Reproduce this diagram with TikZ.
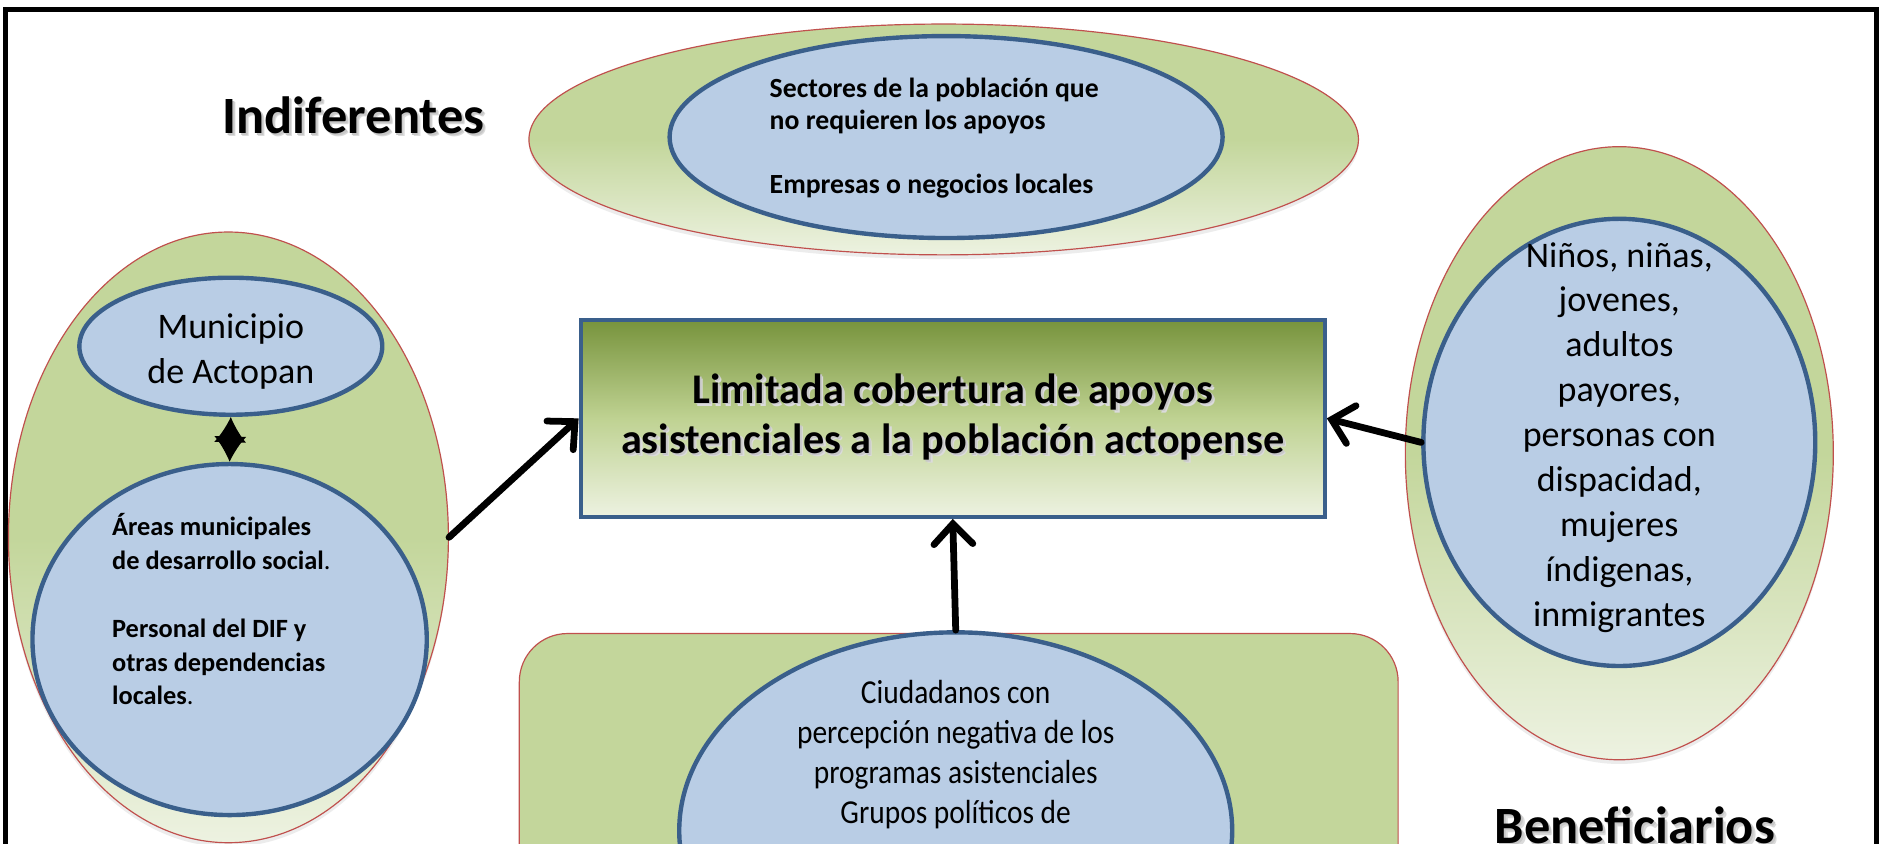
\documentclass[tikz,border=0pt]{standalone}
\usepackage{fontspec}
\setmainfont{Carlito}
\newfontfamily\condfont[FakeStretch=0.88]{Carlito}
\usetikzlibrary{arrows.meta,shapes.geometric,shadows}
\definecolor{gOuter}{HTML}{C3D69B}
\definecolor{gLight}{HTML}{EDF2E1}
\definecolor{blueFill}{HTML}{B9CDE5}
\definecolor{blueLine}{HTML}{3A5F8B}
\definecolor{redLine}{HTML}{C0504D}
\definecolor{rectTop}{HTML}{77933C}
\definecolor{rectMid}{HTML}{BFD292}
\newcommand\shtxt[1]{\rlap{\kern1.9pt\raisebox{-1.9pt}{\textcolor{black!14}{#1}}}\rlap{\kern1.1pt\raisebox{-1.1pt}{\textcolor{black!22}{#1}}}#1}
\tikzset{
  ell/.style 2 args={ellipse, inner sep=0pt, minimum width=#1*0.025cm, minimum height=#2*0.025cm},
  outerell/.style={draw=redLine, line width=0.7pt, top color=gOuter, bottom color=gLight, middle color=gOuter,
     drop shadow={opacity=0.15, shadow xshift=0pt, shadow yshift=-2.5pt}},
  innerell/.style={draw=blueLine, line width=2.6pt, fill=blueFill},
  conn/.style={line width=4pt, line cap=round, -{Straight Barb[length=12pt,width=23pt,line cap=round]}},
  twoway/.style={line width=1pt, {Latex[length=15pt,width=19pt]}-{Latex[length=15pt,width=19pt]}},
  title/.style={font=\bfseries\fontsize{31pt}{37pt}\selectfont, anchor=base, inner sep=0pt},
}
\begin{document}
\begin{tikzpicture}[x=0.025cm, y=-0.025cm]
\useasboundingbox (0,0) rectangle (1568,702);
\clip (0,0) rectangle (1568,702);
\fill[white] (0,0) rectangle (1568,702);
% frame
\draw[line width=3.3pt] (4.5,760) -- (4.5,8) -- (1561,8) -- (1561,760);

% top group
\node[outerell, ell={690}{192}] (topout) at (785,116) {};
\node[innerell, ell={460}{168}] (topin) at (787,114) {};
\node[anchor=west, align=left, inner sep=0pt, font=\bfseries\fontsize{16.4pt}{18.8pt}\selectfont] (toptxt) at (640,115)
  {Sectores de la población que\\no requieren los apoyos\\[18.8pt]Empresas o negocios locales};
\node[title] (tindif) at (294,111) {\shtxt{Indiferentes}};

% left group
\node[outerell, ell={366}{508}] (leftout) at (190,447) {};
\node[innerell, ell={252}{114}] (mun) at (192,288) {};
\node[align=center, inner sep=0pt, font=\fontsize{21.3pt}{26.6pt}\selectfont] (muntxt) at (192,292) {Municipio\\de Actopan};
\node[innerell, ell={328}{292}] (areas) at (191,532) {};
\node[anchor=west, align=left, inner sep=0pt, font=\fontsize{15.6pt}{20pt}\selectfont] (areastxt) at (93,507)
  {\textbf{Áreas municipales}\\\textbf{de desarrollo social}.\\[20pt]\textbf{Personal del DIF y}\\\textbf{otras dependencias}\\\textbf{locales}.};
\draw[twoway] (mun.south) -- (areas.north);

% right group
\node[outerell, ell={356}{510}] (rightout) at (1347,377) {};
\node[innerell, ell={326}{372}] (rightin) at (1347,368) {};
\node[align=center, inner sep=0pt, font=\fontsize{21.3pt}{26.6pt}\selectfont] (righttxt) at (1347,364)
  {Niños, niñas,\\jovenes,\\adultos\\payores,\\personas con\\dispacidad,\\mujeres\\índigenas,\\inmigrantes};
\node[title] (tbenef) at (1360,702) {\shtxt{Beneficiarios}};

% bottom group
\node[draw=redLine, line width=0.7pt, rounded corners=1cm, top color=gOuter, bottom color=gLight, middle color=gOuter,
      minimum width=731*0.025cm, minimum height=353*0.025cm, inner sep=0pt] (botout) at (797.5,703.5) {};
\node[innerell, ell={460}{330}] (botin) at (795,691) {};
\node[align=center, inner sep=0pt, font=\condfont\fontsize{19.8pt}{23.7pt}\selectfont] (bottxt) at (795,628)
  {Ciudadanos con\\percepción negativa de los\\programas asistenciales\\Grupos políticos de};

% central problem
\node[draw=blueLine, line width=2.4pt, top color=rectTop, bottom color=gLight, middle color=rectMid,
      minimum width=619*0.025cm, minimum height=164*0.025cm, inner sep=0pt, align=center,
      font=\bfseries\fontsize{25pt}{29.8pt}\selectfont] (rect) at (792.5,348)
  {\shtxt{Limitada cobertura de apoyos}\\\shtxt{asistenciales a la población actopense}};

% connectors
\draw[conn] (leftout.east) -- (rect.west);
\draw[conn] (rightin.west) -- (rect.east);
\draw[conn] (botin.north) -- (rect.south);
\end{tikzpicture}
\end{document}
